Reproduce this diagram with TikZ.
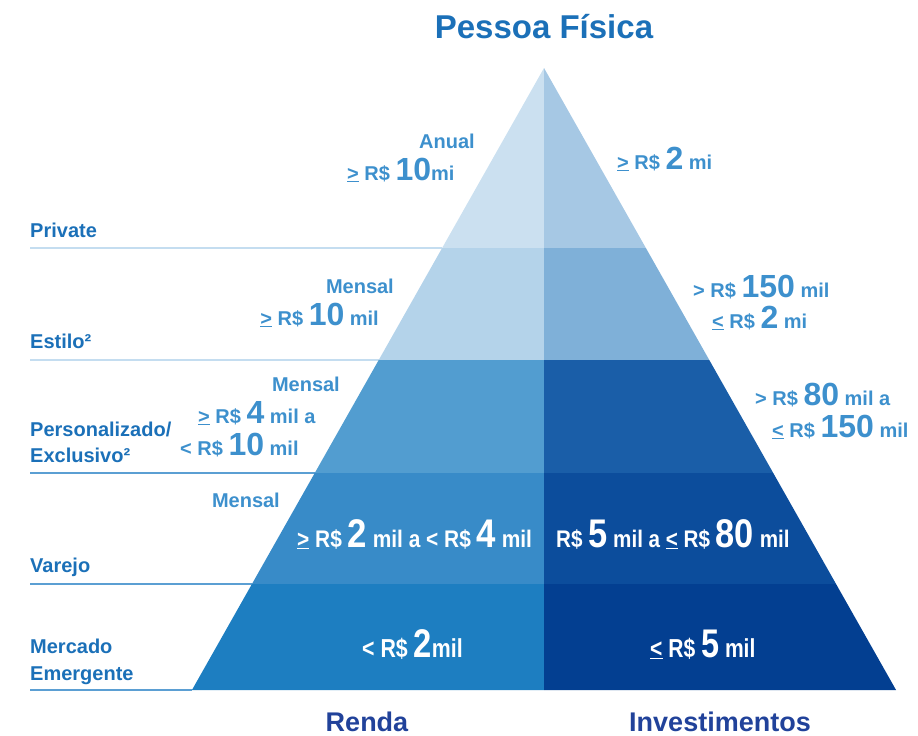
\documentclass[tikz,border=0pt]{standalone}
\usepackage{fontspec}
\setmainfont{Liberation Sans}
\usepackage{graphicx}

\definecolor{segblue}{HTML}{1B70B8}
\definecolor{valblue}{HTML}{3D90CD}
\definecolor{botblue}{HTML}{21429A}
\definecolor{rulelight}{HTML}{C4DDF0}
\definecolor{rulemid}{HTML}{5B9FD3}
\definecolor{pyrL1}{HTML}{CBE0F0}\definecolor{pyrR1}{HTML}{A6C8E4}
\definecolor{pyrL2}{HTML}{B4D3EA}\definecolor{pyrR2}{HTML}{7FB0D8}
\definecolor{pyrL3}{HTML}{529DD0}\definecolor{pyrR3}{HTML}{1A5EA8}
\definecolor{pyrL4}{HTML}{388BC8}\definecolor{pyrR4}{HTML}{0C4D9C}
\definecolor{pyrL5}{HTML}{1D7EC1}\definecolor{pyrR5}{HTML}{033F91}

\newcommand\geu{\underline{>}}
\newcommand\leu{\underline{<}}
\newcommand\dig[1]{{\fontsize{32}{32}\selectfont #1}}
\newcommand\digw[1]{{\fontsize{40}{40}\selectfont #1}}

\tikzset{
  seg/.style={font=\fontsize{20}{26}\selectfont\bfseries, text=segblue,
    anchor=base west, inner sep=0},
  val/.style={font=\fontsize{20}{22}\selectfont\bfseries, text=valblue, inner sep=0},
  inval/.style={font=\fontsize{24}{26}\selectfont\bfseries, text=white,
    anchor=base west, inner sep=0},
  foot/.style={font=\fontsize{27}{30}\selectfont\bfseries, text=botblue,
    anchor=base, inner sep=0}
}

\begin{document}
\begin{tikzpicture}[x=1pt,y=-1pt]
\useasboundingbox (0,0) rectangle (918,736);

% corners of the pyramid
\coordinate (T) at (544,68);
\foreach \y [count=\i] in {248,360,473,584,690}{
  \coordinate (L\i) at ({544-0.566*(\y-68)},\y);
  \coordinate (R\i) at ({544+0.566*(\y-68)},\y);
  \coordinate (M\i) at (544,\y);
  \coordinate (E\i) at (30,\y);
}

% rules on the left
\foreach \i/\c in {1/rulelight,2/rulelight,3/rulemid,4/rulemid,5/rulemid}
  \draw[\c, line width=1.5pt] (E\i) -- (L\i);

% bands
\fill[pyrL1] (T) -- (M1) -- (L1) -- cycle;
\fill[pyrR1] (T) -- (M1) -- (R1) -- cycle;
\foreach \a/\b in {1/2,2/3,3/4,4/5}{
  \fill[pyrL\b] (L\a) -- (M\a) -- (M\b) -- (L\b) -- cycle;
  \fill[pyrR\b] (M\a) -- (R\a) -- (R\b) -- (M\b) -- cycle;
}

\node[font=\fontsize{33}{35}\selectfont\bfseries, text=segblue, anchor=base,
  inner sep=0] (title) at (544,38) {Pessoa Física};

% segments
\node[seg] (private) at (30,237) {Private};
\node[seg] (estilo) at (30,348) {Estilo²};
\node[seg] (person1) at (30,436) {Personalizado/};
\node[seg] (person2) at (30,462) {Exclusivo²};
\node[seg] (varejo) at (30,572) {Varejo};
\node[seg] (mercado1) at (30,653) {Mercado};
\node[seg] (mercado2) at (30,680) {Emergente};

% renda
\node[val, anchor=base] (anual) at (447,148) {Anual};
\node[val, anchor=base west] (r1) at (347,180) {\geu{} R\$ \dig{10}mi};
\node[val, anchor=base east] (mens2) at (394,293) {Mensal};
\node[val, anchor=base east] (r2) at (379,325) {\geu{} R\$ \dig{10} mil};
\node[val, anchor=base east] (mens3) at (340,391) {Mensal};
\node[val, anchor=base west] (r3a) at (198,423) {\geu{} R\$ \dig{4} mil a};
\node[val, anchor=base west] (r3b) at (180,455) {< R\$ \dig{10} mil};
\node[val, anchor=base east] (mens4) at (280,507) {Mensal};
\node[inval] (r4) at (297,547)
  {\scalebox{0.87}[1]{\geu{} R\$ \digw{2} mil a < R\$ \digw{4} mil}};
\node[inval] (r5) at (362,657)
  {\scalebox{0.82}[1]{\fontsize{26}{28}\selectfont < R\$ \digw{2}mil}};

% investimentos
\node[val, anchor=base west] (i1) at (617,169) {\geu{} R\$ \dig{2} mi};
\node[val, anchor=base west] (i2a) at (693,297) {> R\$ \dig{150} mil};
\node[val, anchor=base west] (i2b) at (712,328) {\leu{} R\$ \dig{2} mi};
\node[val, anchor=base west] (i3a) at (755,405) {> R\$ \dig{80} mil a};
\node[val, anchor=base west] (i3b) at (772,437) {\leu{} R\$ \dig{150} mil};
\node[inval] (i4) at (556,547)
  {\scalebox{0.86}[1]{R\$ \digw{5} mil a \leu{} R\$ \digw{80} mil}};
\node[inval] (i5) at (650,657)
  {\scalebox{0.81}[1]{\fontsize{26}{28}\selectfont \leu{} R\$ \digw{5} mil}};

\node[foot] (renda) at (367,731) {Renda};
\node[foot] (invest) at (720,731) {Investimentos};

\end{tikzpicture}
\end{document}
